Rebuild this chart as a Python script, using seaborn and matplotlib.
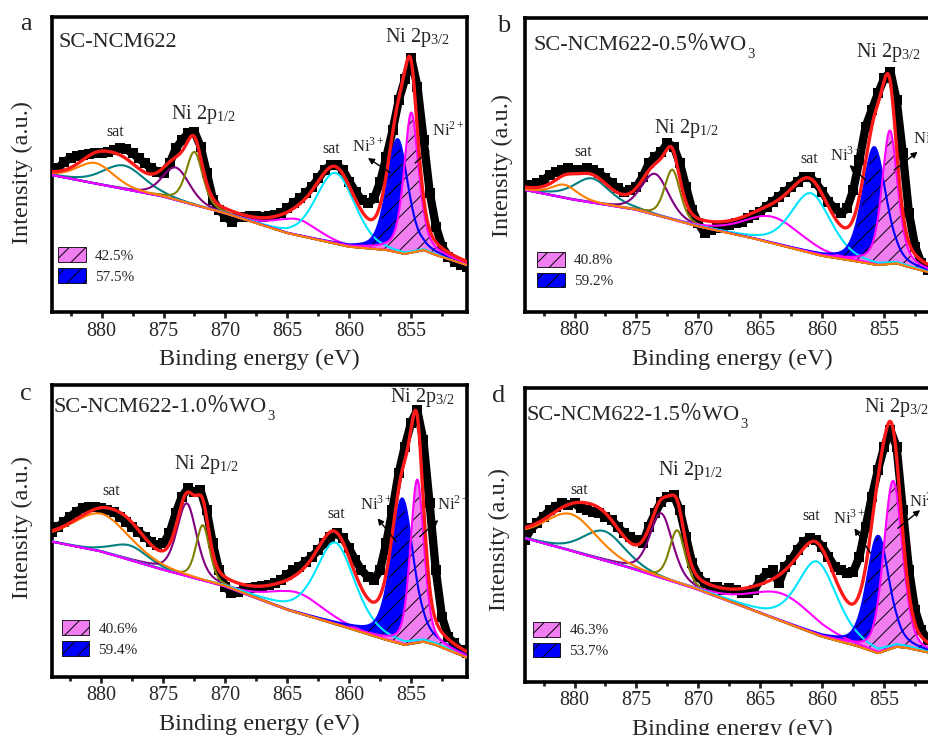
import numpy as np
import pandas as pd
import matplotlib
matplotlib.use("Agg")
import matplotlib.pyplot as plt
import seaborn as sns
from matplotlib.patches import Patch
from matplotlib.ticker import MultipleLocator

sns.set_style("ticks")
plt.rcParams['font.family'] = ['Liberation Serif', 'Noto Sans CJK SC', 'DejaVu Sans']
plt.rcParams['mathtext.fontset'] = 'stix'
plt.rcParams['hatch.linewidth'] = 0.7

# binding energy of the measured points (eV)
energy = [884.0, 883.5, 883.0, 882.5, 882.0, 881.5, 881.0, 880.5, 880.0, 879.5,
          879.0, 878.5, 878.0, 877.5, 877.0, 876.5, 876.0, 875.5, 875.0, 874.5,
          874.0, 873.5, 873.0, 872.5, 872.0, 871.5, 871.0, 870.5, 870.0, 869.5,
          869.0, 868.5, 868.0, 867.5, 867.0, 866.5, 866.0, 865.5, 865.0, 864.5,
          864.0, 863.5, 863.0, 862.5, 862.0, 861.5, 861.0, 860.5, 860.0, 859.5,
          859.0, 858.5, 858.0, 857.5, 857.0, 856.5, 856.0, 855.5, 855.0, 854.5,
          854.0, 853.5, 853.0, 852.5, 852.0, 851.5, 851.0, 850.5]

# measured intensity (a.u.; 0 = bottom of frame, 100 = top)
raw_a = [48.7, 48.7, 51.0, 52.1, 52.9, 53.2, 53.6, 54.0, 53.8, 54.4,
         54.9, 55.5, 55.1, 53.8, 52.1, 50.4, 48.7, 47.6, 47.0, 50.4,
         55.5, 58.3, 60.6, 61.1, 56.0, 47.0, 38.0, 34.6, 32.3, 30.6,
         32.3, 32.3, 32.5, 32.5, 32.3, 32.5, 32.9, 33.4, 35.1, 36.8,
         38.5, 40.2, 42.5, 45.3, 48.1, 49.8, 49.8, 48.1, 44.2, 40.8,
         38.0, 36.8, 38.5, 44.2, 52.7, 61.7, 71.9, 79.0, 86.0, 76.4,
         58.3, 40.2, 28.9, 22.1, 18.8, 17.1, 15.9, 15.4]
raw_b = [43.2, 43.2, 43.8, 44.9, 46.6, 47.7, 48.3, 48.9, 48.3, 48.3,
         48.9, 48.3, 47.2, 45.5, 43.8, 42.0, 40.9, 41.5, 42.6, 46.0,
         50.6, 52.8, 54.5, 57.4, 56.3, 50.6, 42.6, 34.7, 30.1, 26.7,
         27.8, 28.4, 29.0, 29.5, 30.1, 30.7, 31.8, 33.0, 34.1, 35.8,
         37.5, 39.2, 40.9, 42.6, 44.3, 46.0, 46.0, 43.8, 40.9, 37.5,
         35.2, 33.5, 35.2, 41.5, 51.7, 63.1, 68.8, 74.4, 79.5, 81.8,
         72.2, 54.0, 33.5, 22.2, 16.5, 14.2, 13.1, 12.5]
raw_c = [49.7, 51.4, 53.1, 54.9, 56.6, 57.7, 58.3, 58.3, 57.7, 57.1,
         56.6, 54.9, 53.1, 51.4, 49.7, 48.0, 46.3, 45.1, 45.7, 49.1,
         56.0, 61.7, 64.6, 63.4, 64.0, 57.1, 45.7, 36.6, 30.9, 28.6,
         29.1, 29.7, 30.3, 30.9, 31.1, 31.4, 32.0, 33.1, 34.9, 36.6,
         37.7, 39.4, 41.1, 43.4, 45.7, 48.0, 49.1, 47.4, 44.0, 40.0,
         36.6, 34.3, 33.1, 36.6, 45.7, 57.1, 69.7, 78.9, 86.9, 91.4,
         81.1, 59.4, 36.6, 20.6, 13.7, 11.4, 9.1, 8.0]
raw_d = [48.3, 52.3, 54.0, 56.3, 58.5, 59.7, 60.8, 60.2, 60.8, 59.1,
         58.5, 58.0, 57.4, 56.3, 55.1, 52.8, 50.6, 49.4, 48.3, 47.2,
         52.8, 57.4, 61.4, 63.1, 63.6, 58.5, 49.4, 40.3, 35.8, 33.5,
         32.4, 32.4, 31.3, 31.8, 31.3, 30.1, 30.1, 31.3, 34.7, 36.9,
         38.1, 33.5, 39.2, 41.5, 44.9, 47.7, 48.9, 48.3, 46.0, 42.6,
         39.2, 38.1, 36.9, 37.5, 42.6, 52.8, 63.1, 72.2, 80.1, 85.8,
         80.1, 58.5, 38.1, 24.4, 17.6, 14.2, 11.9, 10.8]

# fitted background (knots)
bg_energy = [884, 880, 875, 870, 865, 860, 857, 855.5, 854, 853, 850.5]
bg_a = [46.4, 43.1, 39.1, 33.4, 26.7, 22.1, 21.0, 19.7, 21.0, 19.3, 15.9]
bg_b = [41.5, 38.1, 34.7, 29.0, 24.4, 19.0, 17.0, 15.9, 16.5, 15.2, 12.5]
bg_c = [46.3, 42.9, 36.6, 30.9, 22.9, 16.6, 12.6, 10.9, 12.0, 10.9, 6.6]
bg_d = [48.9, 44.3, 38.1, 31.3, 23.3, 15.3, 11.9, 9.7, 11.9, 11.4, 9.1]

# fitted peaks: sat, sat, Ni3+ 2p1/2, Ni2+ 2p1/2, sat, sat, Ni3+ 2p3/2, Ni2+ 2p3/2
pos_a = [880.5, 878.2, 874.0, 872.5, 864.2, 861.1, 856.1, 855.0]
height_a = [7.0, 8.0, 11.0, 18.0, 5.5, 24.0, 38.4, 47.5]
fwhm_a = [3.5, 4.0, 2.6, 1.6, 4.0, 3.7, 2.0, 1.4]
mix_a = [0.3, 0.3, 0.3, 0.4, 0.3, 0.2, 0.35, 0.5]

pos_b = [880.8, 878.6, 873.5, 872.1, 864.0, 860.9, 855.8, 854.55]
height_b = [4.5, 8.3, 14.0, 17.0, 9.0, 20.4, 40.0, 45.5]
fwhm_b = [2.5, 3.5, 2.6, 1.5, 5.5, 3.8, 2.2, 1.5]
mix_b = [0.5, 0.5, 0.3, 0.4, 0.3, 0.35, 0.35, 0.5]

pos_c = [880.0, 877.7, 873.1, 871.8, 864.2, 861.1, 855.7, 854.5]
height_c = [13.0, 5.0, 25.0, 19.0, 7.0, 28.0, 50.0, 56.0]
fwhm_c = [5.5, 3.5, 1.9, 1.3, 5.0, 3.7, 2.1, 1.3]
mix_c = [0.3, 0.3, 0.4, 0.4, 0.3, 0.45, 0.45, 0.4]

pos_d = [880.3, 877.6, 873.0, 871.7, 863.2, 860.4, 855.5, 854.3]
height_d = [12.5, 10.0, 22.0, 18.0, 9.5, 25.0, 40.0, 57.0]
fwhm_d = [5.0, 4.0, 2.2, 1.5, 6.0, 3.8, 2.1, 1.8]
mix_d = [0.3, 0.3, 0.4, 0.4, 0.3, 0.45, 0.4, 0.3]

samples = ['SC-NCM622', 'SC-NCM622-0.5％WO', 'SC-NCM622-1.0％WO', 'SC-NCM622-1.5％WO']
ni2_share = ['42.5%', '40.8%', '40.6%', '46.3%']
ni3_share = ['57.5%', '59.2%', '59.4%', '53.7%']

comp_colors = ['#ff8000', '#008080', '#800080', '#808000', '#ff00ff', '#00e5ff', '#0000ff', '#ff00ff']
pink_fill = '#f07ef0'

panels = [
    dict(letter='a', raw=raw_a, bg=bg_a, pos=pos_a, h=height_a, w=fwhm_a, m=mix_a,
         rect=[0.0560, 0.5755, 0.4467, 0.4014], let=(0.0215, 0.959), ylab=(-0.046, 0.473),
         title=(0.0145, 0.899), p32=(857.1, 91.6), p12=(874.4, 65.3),
         sat1=(878.9, 59.8), sat2=(861.5, 54.0), ni3=(859.8, 54.3), ni2=(853.3, 59.7),
         arr3=((856.7, 47.2), (858.5, 52.2)), arr2=((854.7, 50.5), (853.5, 54.9)),
         leg=(0.0145, 0.22)),
    dict(letter='b', raw=raw_b, bg=bg_b, pos=pos_b, h=height_b, w=fwhm_b, m=mix_b,
         rect=[0.5651, 0.5759, 0.4467, 0.3992], let=(0.5347, 0.9565), ylab=(-0.029, 0.5),
         title=(0.02, 0.892), p32=(857.3, 86.9), p12=(873.6, 60.8),
         sat1=(879.3, 53.2), sat2=(861.05, 50.8), ni3=(859.4, 51.4), ni2=(852.7, 57.4),
         arr3=((856.5, 44.9), (857.8, 50.0)), arr2=((854.2, 48.3), (852.3, 54.5)),
         leg=(0.03, 0.204)),
    dict(letter='c', raw=raw_c, bg=bg_c, pos=pos_c, h=height_c, w=fwhm_c, m=mix_c,
         rect=[0.0557, 0.0793, 0.4467, 0.3969], let=(0.0215, 0.4558), ylab=(-0.045, 0.511),
         title=(0.004, 0.909), p32=(856.7, 94.3), p12=(874.1, 71.1),
         sat1=(879.2, 62.3), sat2=(861.0, 54.3), ni3=(859.1, 57.1), ni2=(852.9, 57.1),
         arr3=((856.2, 46.3), (857.7, 54.3)), arr2=((854.3, 48.0), (852.8, 53.7)),
         leg=(0.024, 0.194)),
    dict(letter='d', raw=raw_d, bg=bg_d, pos=pos_d, h=height_d, w=fwhm_d, m=mix_d,
         rect=[0.5651, 0.0725, 0.4467, 0.3992], let=(0.5293, 0.453), ylab=(-0.036, 0.486),
         title=(0.0025, 0.892), p32=(856.6, 92.0), p12=(873.3, 70.4),
         sat1=(879.6, 64.0), sat2=(860.9, 55.1), ni3=(859.1, 54.0), ni2=(853.0, 59.6),
         arr3=((856.1, 43.8), (857.4, 52.3)), arr2=((853.9, 52.3), (852.1, 58.5)),
         leg=(0.019, 0.204)),
]


def voigt(x, c, h, w, m):
    u = (x - c) / w
    gauss = np.exp(-4 * np.log(2) * u ** 2)
    lorentz = 1 / (1 + 4 * u ** 2)
    return h * (m * lorentz + (1 - m) * gauss)


fig = plt.figure(figsize=(9.29, 7.35), dpi=100)
xs = np.linspace(884, 850.5, 500)
bg_order = np.argsort(bg_energy)

for i, p in enumerate(panels):
    ax = fig.add_axes(p['rect'])
    base = np.interp(xs, np.array(bg_energy)[bg_order], np.array(p['bg'])[bg_order])

    # measured points: thick band of black squares
    sns.lineplot(x=energy, y=p['raw'], color='black', linewidth=6, marker='s',
                 markersize=7.5, markeredgewidth=0, ax=ax, zorder=1)

    comps = [voigt(xs, c, h, w, m) for c, h, w, m in zip(p['pos'], p['h'], p['w'], p['m'])]

    # Ni3+ / Ni2+ 2p3/2 areas
    ax.fill_between(xs, base, base + comps[6], facecolor='#0000ff', edgecolor='black',
                    hatch='//', linewidth=0, zorder=2)
    ax.fill_between(xs, base, base + comps[7], facecolor=pink_fill, edgecolor='black',
                    hatch='//', linewidth=0, zorder=2)

    for k in [1, 2, 3, 4, 5, 6, 7, 0]:
        sns.lineplot(x=xs, y=base + comps[k], color=comp_colors[k], linewidth=1.5,
                     ax=ax, zorder=3)

    envelope = base + np.sum(comps, axis=0)
    sns.lineplot(x=xs, y=envelope, color='#ff1a1a', linewidth=2.4, ax=ax, zorder=4)

    ax.set_xlim(884, 850.5)
    ax.set_ylim(0, 100)
    ax.set_yticks([])
    ax.xaxis.set_major_locator(MultipleLocator(5))
    ax.xaxis.set_minor_locator(MultipleLocator(2.5))
    ax.tick_params(axis='x', which='major', direction='out', length=4, width=2,
                   labelsize=14.5, pad=3, top=False)
    ax.tick_params(axis='x', which='minor', direction='out', length=3, width=2, top=False)
    for sp in ax.spines.values():
        sp.set_visible(True)
        sp.set_linewidth(2.6)
        sp.set_color('black')
    ax.set_xlabel('Binding energy (eV)', fontsize=17.5, labelpad=6)
    ax.set_ylabel('Intensity (a.u.)', fontsize=17.5)
    ax.yaxis.set_label_coords(*p['ylab'])

    t = ax.text(p['title'][0], p['title'][1], samples[i], transform=ax.transAxes,
                fontsize=16, ha='left', va='baseline')
    if i > 0:
        ax.annotate('3', xy=(1, 0), xycoords=t, xytext=(0.5, 0), textcoords='offset points',
                    fontsize=10.5, ha='left', va='center')

    ax.text(*p['p32'], r'Ni 2p$_{\mathregular{3/2}}$', fontsize=14.5, ha='left', va='baseline')
    ax.text(*p['p12'], r'Ni 2p$_{\mathregular{1/2}}$', fontsize=14.5, ha='left', va='baseline')
    ax.text(*p['sat1'], 'sat', fontsize=11.5, ha='center', va='baseline')
    ax.text(*p['sat2'], 'sat', fontsize=11.5, ha='center', va='baseline')
    ax.text(*p['ni3'], r'Ni$^{\mathregular{3+}}$', fontsize=12, ha='left', va='baseline')
    ax.text(*p['ni2'], r'Ni$^{\mathregular{2+}}$', fontsize=12, ha='left', va='baseline')
    for tail, head in [p['arr3'], p['arr2']]:
        ax.annotate('', xy=head, xytext=tail,
                    arrowprops=dict(arrowstyle='-|>', color='black', lw=1.0,
                                    mutation_scale=9, shrinkA=0, shrinkB=0), zorder=5)

    handles = [Patch(facecolor=pink_fill, edgecolor='black', hatch='//', linewidth=0.6),
               Patch(facecolor='#0000ff', edgecolor='black', hatch='//', linewidth=0.6)]
    ax.legend(handles=handles, labels=[ni2_share[i], ni3_share[i]], loc='upper left',
              bbox_to_anchor=p['leg'], frameon=False, fontsize=11, handlelength=1.8,
              handleheight=1.1, handletextpad=0.6, labelspacing=0.35,
              borderaxespad=0, borderpad=0)

    fig.text(p['let'][0], p['let'][1], p['letter'], fontsize=19, ha='left', va='baseline')

fig.savefig('out.png', dpi=100)
